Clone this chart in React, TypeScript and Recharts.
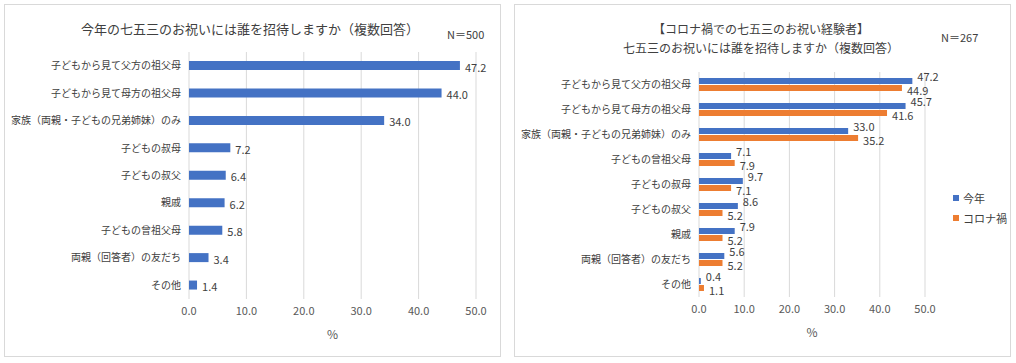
import React from 'react';
import { BarChart, Bar, XAxis, YAxis, CartesianGrid, LabelList, Legend } from 'recharts';

const leftCategories = [
  '子どもから見て父方の祖父母',
  '子どもから見て母方の祖父母',
  '家族（両親・子どもの兄弟姉妹）のみ',
  '子どもの叔母',
  '子どもの叔父',
  '親戚',
  '子どもの曾祖父母',
  '両親（回答者）の友だち',
  'その他',
];
const leftValues = [47.2, 44.0, 34.0, 7.2, 6.4, 6.2, 5.8, 3.4, 1.4];

const rightCategories = [
  '子どもから見て父方の祖父母',
  '子どもから見て母方の祖父母',
  '家族（両親・子どもの兄弟姉妹）のみ',
  '子どもの曾祖父母',
  '子どもの叔母',
  '子どもの叔父',
  '親戚',
  '両親（回答者）の友だち',
  'その他',
];
const thisYearValues = [47.2, 45.7, 33.0, 7.1, 9.7, 8.6, 7.9, 5.6, 0.4];
const covidValues = [44.9, 41.6, 35.2, 7.9, 7.1, 5.2, 5.2, 5.2, 1.1];

const xTicks = [0, 10, 20, 30, 40, 50];

const COLORS = {
  blue: '#4472C4',
  orange: '#ED7D31',
  text: '#404040',
  grid: '#d9d9d9',
  border: '#d9d9d9',
};

const leftData = leftCategories.map((name, i) => ({ name, value: leftValues[i] }));
const rightData = rightCategories.map((name, i) => ({
  name,
  thisYear: thisYearValues[i],
  covid: covidValues[i],
}));

const fmt = (v: number) => Number(v).toFixed(1);

// value label beside the bar, nudged up or down like the excel placement
const sideLabel = (dy: number) => (props: any) => {
  const { x, y, width, height, value } = props;
  return (
    <text
      x={Number(x) + Number(width) + 5}
      y={Number(y) + Number(height) / 2 + dy}
      dominantBaseline="central"
      fontSize={11}
      fill={COLORS.text}
    >
      {fmt(value)}
    </text>
  );
};

const legendContent = () => (
  <div style={{ fontSize: 11, color: COLORS.text }}>
    {[
      { label: '今年', color: COLORS.blue },
      { label: 'コロナ禍', color: COLORS.orange },
    ].map((item) => (
      <div key={item.label} style={{ display: 'flex', alignItems: 'center', height: 20 }}>
        <span style={{ width: 6, height: 6, background: item.color, marginRight: 4 }} />
        {item.label}
      </div>
    ))}
  </div>
);

const panelStyle: React.CSSProperties = {
  position: 'absolute',
  border: `1px solid ${COLORS.border}`,
  background: '#fff',
  boxSizing: 'border-box',
};

export default function App() {
  return (
    <div
      style={{
        position: 'absolute',
        left: 0,
        top: 0,
        width: 1016,
        height: 363,
        background: '#fff',
        fontFamily: '"Noto Sans CJK JP", "Noto Sans", sans-serif',
        color: COLORS.text,
      }}
    >
      {/* left panel */}
      <div style={{ ...panelStyle, left: 4, top: 4, width: 497, height: 353 }}>
        <BarChart
          width={495}
          height={351}
          data={leftData}
          layout="vertical"
          margin={{ top: 47, right: 24, left: 0, bottom: 17 }}
        >
          <CartesianGrid horizontal={false} stroke={COLORS.grid} />
          <XAxis
            type="number"
            domain={[0, 50]}
            ticks={xTicks}
            tickFormatter={fmt}
            axisLine={false}
            tickLine={false}
            tick={{ fontSize: 11, fill: '#595959' }}
            height={40}
            label={{ value: '%', position: 'insideBottom', offset: 0, fontSize: 12, fill: '#595959' }}
          />
          <YAxis
            type="category"
            dataKey="name"
            width={184}
            interval={0}
            axisLine={false}
            tickLine={false}
            tick={{ fontSize: 10, fill: COLORS.text }}
          />
          <Bar dataKey="value" fill={COLORS.blue} barSize={9} isAnimationActive={false}>
            <LabelList dataKey="value" content={sideLabel(1)} />
          </Bar>
        </BarChart>
        <div
          style={{
            position: 'absolute',
            left: 0,
            width: 490,
            top: 14,
            textAlign: 'center',
            fontSize: 13,
          }}
        >
          今年の七五三のお祝いには誰を招待しますか（複数回答）
        </div>
        <div style={{ position: 'absolute', left: 442, top: 21, fontSize: 11 }}>N＝500</div>
      </div>

      {/* right panel */}
      <div style={{ ...panelStyle, left: 514, top: 4, width: 497, height: 353 }}>
        <BarChart
          width={495}
          height={351}
          data={rightData}
          layout="vertical"
          barGap={1}
          margin={{ top: 67, right: 25, left: 0, bottom: 19 }}
        >
          <CartesianGrid horizontal={false} stroke={COLORS.grid} />
          <XAxis
            type="number"
            domain={[0, 50]}
            ticks={xTicks}
            tickFormatter={fmt}
            axisLine={false}
            tickLine={false}
            tick={{ fontSize: 11, fill: '#595959' }}
            height={40}
            label={{ value: '%', position: 'insideBottom', offset: 0, fontSize: 12, fill: '#595959' }}
          />
          <YAxis
            type="category"
            dataKey="name"
            width={184}
            interval={0}
            axisLine={false}
            tickLine={false}
            tick={{ fontSize: 10, fill: COLORS.text }}
          />
          <Legend
            layout="vertical"
            align="right"
            verticalAlign="top"
            content={legendContent}
            wrapperStyle={{ left: 438, top: 183, width: 60 }}
          />
          <Bar dataKey="thisYear" name="今年" fill={COLORS.blue} barSize={6} isAnimationActive={false}>
            <LabelList dataKey="thisYear" content={sideLabel(-5)} />
          </Bar>
          <Bar dataKey="covid" name="コロナ禍" fill={COLORS.orange} barSize={6} isAnimationActive={false}>
            <LabelList dataKey="covid" content={sideLabel(2)} />
          </Bar>
        </BarChart>
        <div
          style={{
            position: 'absolute',
            left: 0,
            width: 492,
            top: 14,
            textAlign: 'center',
            fontSize: 12,
            lineHeight: '19px',
          }}
        >
          【コロナ禍での七五三のお祝い経験者】
          <br />
          七五三のお祝いには誰を招待しますか（複数回答）
        </div>
        <div style={{ position: 'absolute', left: 426, top: 24, fontSize: 11 }}>N＝267</div>
      </div>
    </div>
  );
}
